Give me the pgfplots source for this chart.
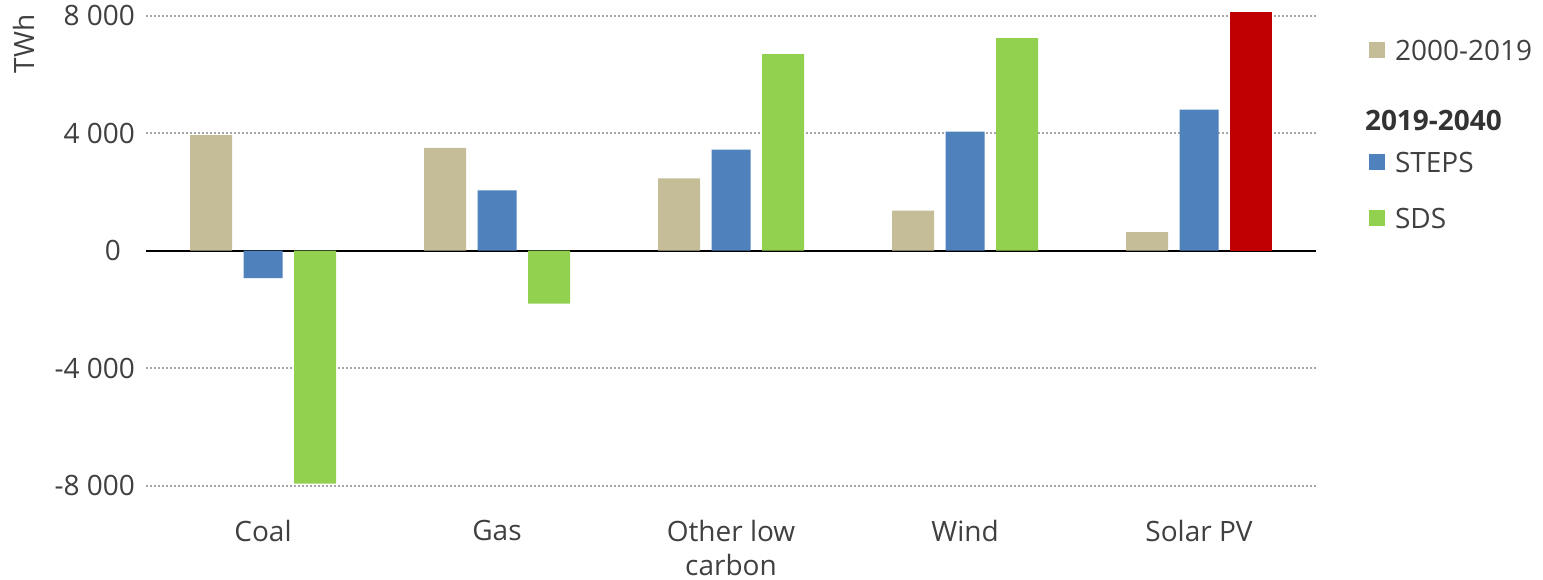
\documentclass[border=0pt]{standalone}
\usepackage{fontspec}
\setmainfont{Open Sans}
\usepackage{pgfplots}
\pgfplotsset{compat=1.18}
\definecolor{cbeige}{HTML}{C4BD97}
\definecolor{cblue}{HTML}{4F81BD}
\definecolor{cgreen}{HTML}{92D050}
\definecolor{cred}{HTML}{C00000}
\definecolor{ctext}{HTML}{404040}
\definecolor{chead}{HTML}{333333}
\definecolor{cgrid}{HTML}{A6A6A6}
\newcommand\fs{\fontsize{14}{17}\selectfont}
\pgfplotsset{sqleg/.style={legend image code/.code={\fill[##1] (0pt,-4pt) rectangle (8pt,4pt);}}}
\begin{document}
\begin{tikzpicture}
\useasboundingbox (0,0) rectangle (771.5pt,289.5pt);
\begin{axis}[
  at={(73pt,46.65pt)}, anchor=south west,
  scale only axis, width=585pt, height=236.85pt,
  xmin=-0.5, xmax=4.5, ymin=-8000, ymax=8120,
  xtick={0,1,2,3,4},
  xticklabels={Coal,Gas,{Other low\\carbon},Wind,Solar PV},
  xticklabel style={align=center, font=\fs, text=ctext, yshift=-13.5pt},
  ytick={-8000,-4000,4000,8000},
  yticklabels={-8 000,-4 000,4 000,8 000},
  yticklabel style={font=\fs, text=ctext, xshift=-2pt},
  extra y ticks={0}, extra y tick labels={0\hspace*{7pt}},
  extra y tick style={grid=major, major grid style={black, solid, line width=1pt}},
  ymajorgrids,
  major grid style={cgrid, line width=1pt, dash pattern=on 1pt off 1pt},
  axis line style={draw=none},
  major tick length=0pt,
  legend style={at={(1.0453,0.9473)}, anchor=north west, draw=none, fill=none,
    inner sep=0pt, outer sep=0pt, font=\fs, text=ctext,
    row sep=14.5pt, column sep=5pt, nodes={inner sep=0pt}},
  legend cell align=left,
]
\addplot[ybar, bar width=21pt, bar shift=-26pt, fill=cbeige, draw=none, sqleg]
  coordinates {(0,3930) (1,3500) (2,2460) (3,1360) (4,630)};
\addlegendentry{\strut 2000-2019}
\addlegendimage{empty legend}
\addlegendentry{\strut\smash{\makebox[0pt][l]{\hspace*{-15.5pt}\raisebox{-7pt}{\bfseries\color{chead}2019-2040}}}}
\addplot[ybar, bar width=19.5pt, bar shift=0pt, fill=cblue, draw=none, sqleg]
  coordinates {(0,-940) (1,2050) (2,3440) (3,4050) (4,4800)};
\addlegendentry{\strut STEPS}
\addplot[ybar, bar width=21pt, bar shift=26pt, fill=cgreen, draw=none, sqleg]
  coordinates {(0,-7930) (1,-1800) (2,6690) (3,7230)};
\addlegendentry{\strut SDS}
\addplot[ybar, bar width=21pt, bar shift=26pt, fill=cred, draw=none, forget plot]
  coordinates {(4,8110)};
\end{axis}
\node[rotate=90, font=\fs, text=ctext] at (12pt,267.5pt) {TWh};
\end{tikzpicture}
\end{document}
